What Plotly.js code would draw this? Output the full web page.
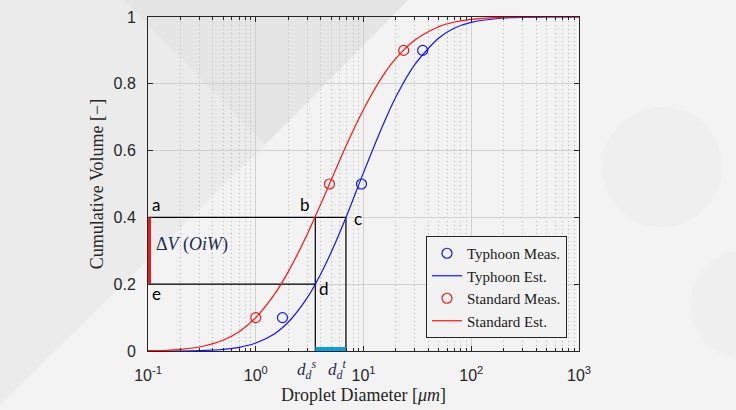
<!DOCTYPE html>
<html>
<head>
<meta charset="utf-8">
<script src="https://cdn.plot.ly/plotly-3.0.1.min.js"></script>
<style>
html,body{margin:0;padding:0;background:#f2f2f2;}
#chart{width:736px;height:410px;}
</style>
</head>
<body>
<div id="chart"></div>
<script>
// ---- data ----
const measVolume = [0.1, 0.5, 0.9];
const typhoonMeasD = [1.77, 9.58, 35.4];
const standardMeasD = [1.0, 4.83, 23.6];

const estD = [0.1, 0.15, 0.2, 0.3, 0.5, 0.7, 1, 1.5, 2, 3, 4, 5, 7, 10, 15, 20, 30, 50, 70, 100, 200, 500, 1000];
const typhoonEst = [0.000, 0.000, 0.000, 0.001, 0.005, 0.011, 0.024, 0.052, 0.086, 0.159, 0.230, 0.295, 0.406, 0.534, 0.673, 0.761, 0.858, 0.937, 0.967, 0.984, 0.997, 1.0, 1.0];
const standardEst = [0.001, 0.002, 0.005, 0.012, 0.033, 0.058, 0.100, 0.171, 0.237, 0.349, 0.439, 0.511, 0.619, 0.723, 0.822, 0.876, 0.931, 0.971, 0.985, 0.993, 0.999, 1.0, 1.0];

const dMin = 0.1;          // left edge of the axis
const volLow = 0.2;        // lower level (points d, e)
const volHigh = 0.4;       // upper level (points a, b, c)
const dStandard = 3.57;    // d_d^s
const dTyphoon = 6.87;     // d_d^t

const xTickVals = [0.1, 1, 10, 100, 1000];
const xTickText = ['10<sup>-1</sup>', '10<sup>0</sup>', '10<sup>1</sup>', '10<sup>2</sup>', '10<sup>3</sup>'];
const xMinorVals = [0.2,0.3,0.4,0.5,0.6,0.7,0.8,0.9, 2,3,4,5,6,7,8,9, 20,30,40,50,60,70,80,90, 200,300,400,500,600,700,800,900];

// ---- layout helpers (pixel -> paper) ----
const L = 148, R = 579, T = 17, B = 351;
const px = v => (v - L) / (R - L);
const py = v => (B - v) / (B - T);
function poly(pts){ return 'M ' + pts.map(p => px(p[0]).toFixed(4) + ',' + py(p[1]).toFixed(4)).join(' L ') + ' Z'; }

const navy = '#1f2b52';
const blue = '#1414ff';
const red = '#ff1414';
const lg = Math.log10;

const traces = [
  // black construction lines
  {x: [dMin, dTyphoon, dTyphoon], y: [volHigh, volHigh, 0], mode: 'lines', line: {color: '#000', width: 1.2}, showlegend: false, hoverinfo: 'skip'},
  {x: [dMin, dStandard, dStandard], y: [volLow, volLow, 0], mode: 'lines', line: {color: '#000', width: 1.2}, showlegend: false, hoverinfo: 'skip'},
  {x: [dStandard, dStandard], y: [volLow, volHigh], mode: 'lines', line: {color: '#000', width: 1.2}, showlegend: false, hoverinfo: 'skip'},
  // series
  {x: typhoonMeasD, y: measVolume, name: 'Typhoon Meas.', mode: 'markers',
   marker: {symbol: 'circle-open', size: 10, color: blue, line: {width: 1.2, color: blue}}, cliponaxis: false},
  {x: estD, y: typhoonEst, name: 'Typhoon Est.', mode: 'lines', line: {color: blue, width: 1.2, shape: 'spline', smoothing: 0.8}},
  {x: standardMeasD, y: measVolume, name: 'Standard Meas.', mode: 'markers',
   marker: {symbol: 'circle-open', size: 10, color: red, line: {width: 1.2, color: red}}, cliponaxis: false},
  {x: estD, y: standardEst, name: 'Standard Est.', mode: 'lines', line: {color: red, width: 1.2, shape: 'spline', smoothing: 0.8}}
];

const letterFont = {family: 'Lato, "Open Sans", sans-serif', size: 17, color: '#000'};
const mathFont = {family: '"Liberation Serif", serif', size: 17, color: navy};

function ann(text, x, y, xs, ys, font, xref, yref){
  return {text: text, x: x, y: y, xref: xref || 'x', yref: yref || 'y', xshift: xs, yshift: ys,
          xanchor: 'center', yanchor: 'middle', showarrow: false, font: font};
}

const annotations = [
  ann('a', lg(dMin), volHigh, 8, 13, letterFont),
  ann('b', lg(dStandard), volHigh, -10, 13, letterFont),
  ann('c', lg(dTyphoon), volHigh, 12, -1, letterFont),
  ann('d', lg(dStandard), volLow, 9, -4, letterFont),
  ann('e', lg(dMin), volLow, 8, -9, letterFont),
  ann('Δ<i>V</i> (<i>OiW</i>)', lg(dMin), (volLow + volHigh) / 2, 44, 6, {family: '"Liberation Serif", serif', size: 18, color: navy}),
  ann('<i>d</i><sub><i>d</i></sub><sup><i>s</i></sup>', lg(dStandard), 0, -9, -18, mathFont, 'x', 'paper'),
  ann('<i>d</i><sub><i>d</i></sub><sup><i>t</i></sup>', lg(dTyphoon), 0, -9, -18, mathFont, 'x', 'paper')
];

const shapes = [
  // background watermark
  {type: 'path', xref: 'paper', yref: 'paper', layer: 'below', line: {width: 0}, fillcolor: '#ebebeb',
   path: poly([[-10,-10],[114,-10],[265,145],[-10,415]])},
  {type: 'path', xref: 'paper', yref: 'paper', layer: 'below', line: {width: 0}, fillcolor: '#e5e5e5',
   path: poly([[114,-10],[418,-10],[265,145]])},
  {type: 'circle', xref: 'paper', yref: 'paper', layer: 'below', line: {width: 0}, fillcolor: '#efefef',
   x0: px(602), x1: px(722), y0: py(227), y1: py(107)},
  {type: 'circle', xref: 'paper', yref: 'paper', layer: 'below', line: {width: 0}, fillcolor: '#f0f0f0',
   x0: px(690), x1: px(800), y0: py(360), y1: py(250)},
  // highlight bars
  {type: 'rect', xref: 'x', yref: 'y', layer: 'above', line: {width: 0}, fillcolor: '#e02020',
   xsizemode: 'pixel', xanchor: dMin, x0: -1, x1: 3, y0: volLow, y1: volHigh},
  {type: 'rect', xref: 'x', yref: 'y', layer: 'above', line: {width: 0}, fillcolor: '#109ad8',
   ysizemode: 'pixel', yanchor: 0, y0: 0, y1: 4, x0: dStandard, x1: dTyphoon}
];

const axisFont = {family: '"Liberation Sans", Arial, sans-serif', size: 16, color: '#262626'};

const layout = {
  width: 736, height: 410,
  margin: {l: L, r: 736 - R, t: T, b: 410 - B, pad: 0},
  paper_bgcolor: '#f3f3f3',
  plot_bgcolor: 'rgba(0,0,0,0)',
  showlegend: true,
  legend: {x: px(567), y: py(338), xanchor: 'right', yanchor: 'bottom',
           bgcolor: '#f2f2f2', bordercolor: '#262626', borderwidth: 1,
           font: {family: '"Liberation Serif", serif', size: 15, color: '#1a1a1a'},
           tracegroupgap: 0, itemwidth: 30},
  xaxis: {
    type: 'log', range: [lg(0.1), lg(1000)], automargin: false,
    tickmode: 'array', tickvals: xTickVals, ticktext: xTickText,
    ticks: 'inside', ticklen: 5, tickcolor: '#262626', tickwidth: 1,
    showline: true, linecolor: '#262626', linewidth: 1, mirror: 'ticks',
    showgrid: true, gridcolor: '#d0d0d0', gridwidth: 1,
    zeroline: false, tickfont: axisFont, ticklabelstandoff: 10,
    minor: {tickmode: 'array', tickvals: xMinorVals, ticks: 'inside', ticklen: 3, tickcolor: '#262626',
            showgrid: true, gridcolor: '#b4b4b4', griddash: '1px,3px', gridwidth: 1},
    title: {text: 'Droplet Diameter [<i>μm</i>]', font: {family: '"Liberation Serif", serif', size: 18, color: '#262626'}, standoff: 5}
  },
  yaxis: {
    range: [0, 1], automargin: false, tickmode: 'linear', tick0: 0, dtick: 0.2,
    ticks: 'inside', ticklen: 5, tickcolor: '#262626', tickwidth: 1,
    showline: true, linecolor: '#262626', linewidth: 1, mirror: 'ticks',
    showgrid: true, gridcolor: '#d0d0d0', gridwidth: 1,
    zeroline: false, tickfont: axisFont, ticklabelstandoff: 8,
    title: {text: 'Cumulative Volume [−]', font: {family: '"Liberation Serif", serif', size: 18, color: '#262626'}, standoff: 5}
  },
  annotations: annotations,
  shapes: shapes
};

Plotly.newPlot('chart', traces, layout, {displayModeBar: false, staticPlot: true});
</script>
</body>
</html>
